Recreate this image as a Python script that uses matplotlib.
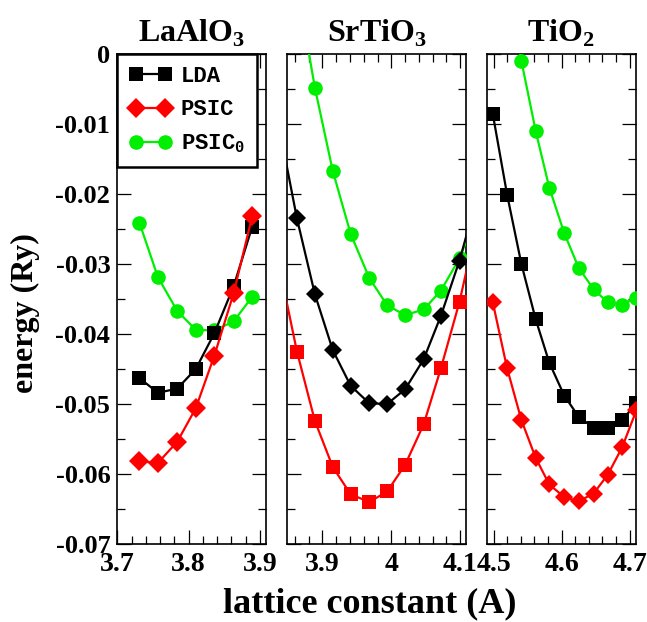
import matplotlib
matplotlib.use("Agg")
import matplotlib.pyplot as plt
from matplotlib.ticker import MultipleLocator, FixedLocator
from matplotlib.lines import Line2D

plt.rcParams['font.family'] = ['Liberation Serif', 'DejaVu Serif']
plt.rcParams['font.weight'] = 'bold'
plt.rcParams['axes.unicode_minus'] = False
plt.rcParams['mathtext.fontset'] = 'custom'
plt.rcParams['mathtext.bf'] = 'Liberation Serif:bold'
plt.rcParams['mathtext.rm'] = 'Liberation Serif:bold'
plt.rcParams['mathtext.tt'] = 'Liberation Mono:bold'

# ---------------- data ----------------
panel_titles = [r'LaAlO$_{\mathbf{3}}$', r'SrTiO$_{\mathbf{3}}$', r'TiO$_{\mathbf{2}}$']
legend_labels = ['LDA', 'PSIC', r'PSIC$_{\mathtt{0}}$']

lao_x = [3.731, 3.757, 3.784, 3.810, 3.836, 3.863, 3.889]
lao_lda = [-0.0463, -0.0484, -0.0478, -0.0450, -0.0399, -0.0332, -0.0247]
lao_psic = [-0.0582, -0.0584, -0.0554, -0.0506, -0.0431, -0.0342, -0.0232]
lao_psic0 = [-0.0241, -0.0319, -0.0367, -0.0394, -0.0395, -0.0382, -0.0347]

sto_x = [3.836, 3.863, 3.889, 3.915, 3.941, 3.968, 3.994, 4.020, 4.047, 4.072, 4.099, 4.125]
sto_lda = [-0.0098, -0.0235, -0.0343, -0.0423, -0.0474, -0.0499, -0.0500, -0.0479, -0.0436, -0.0374, -0.0295, -0.0203]
sto_psic = [-0.0297, -0.0425, -0.0524, -0.0590, -0.0629, -0.0640, -0.0625, -0.0587, -0.0529, -0.0449, -0.0354, -0.0240]
sto_psic0 = [0.0276, 0.0100, -0.0048, -0.0167, -0.0257, -0.0320, -0.0359, -0.0373, -0.0365, -0.0338, -0.0292, -0.0227]

tio_x = [4.499, 4.520, 4.541, 4.562, 4.582, 4.604, 4.625, 4.647, 4.668, 4.689, 4.710]
tio_lda = [-0.0086, -0.0201, -0.0300, -0.0379, -0.0441, -0.0488, -0.0518, -0.0534, -0.0535, -0.0523, -0.0499]
tio_psic = [-0.0355, -0.0449, -0.0523, -0.0577, -0.0615, -0.0633, -0.0639, -0.0628, -0.0601, -0.0562, -0.0509]
tio_psic0 = [0.0249, 0.0110, -0.0010, -0.0110, -0.0191, -0.0256, -0.0305, -0.0336, -0.0355, -0.0358, -0.0348]

y_ticks = [0, -0.01, -0.02, -0.03, -0.04, -0.05, -0.06, -0.07]
y_tick_labels = ['0', '-0.01', '-0.02', '-0.03', '-0.04', '-0.05', '-0.06', '-0.07']
x_ticks = [[3.7, 3.8, 3.9], [3.9, 4.0, 4.1], [4.5, 4.6, 4.7]]
x_tick_labels = [['3.7', '3.8', '3.9'], ['3.9', '4', '4.1'], ['4.5', '4.6', '4.7']]
x_limits = [(3.700, 3.908), (3.849, 4.108), (4.490, 4.709)]

# ---------------- figure ----------------
W, H = 647, 622
fig = plt.figure(figsize=(W / 100, H / 100), dpi=100)

def rect(l, r, t=54, b=544):
    return [l / W, 1 - b / H, (r - l) / W, (b - t) / H]

axes = [fig.add_axes(rect(117.3, 265.7)),
        fig.add_axes(rect(287.3, 465.7)),
        fig.add_axes(rect(486.7, 635.7))]

BLACK = 'black'
RED = '#ff0000'
GREEN = '#00ee00'
lw = 1.6

# marker choices follow the reference panels
panel_data = [
    (lao_x, [(lao_psic0, GREEN, 'o', 10.5), (lao_lda, BLACK, 's', 9.5), (lao_psic, RED, 'D', 10.5)]),
    (sto_x, [(sto_psic0, GREEN, 'o', 10.5), (sto_lda, BLACK, 'D', 9.0), (sto_psic, RED, 's', 9.5)]),
    (tio_x, [(tio_psic0, GREEN, 'o', 10.5), (tio_lda, BLACK, 's', 9.5), (tio_psic, RED, 'D', 9.0)]),
]

for i, ax in enumerate(axes):
    xs, series = panel_data[i]
    for ys, c, m, ms in series:
        ax.plot(xs, ys, color=c, marker=m, markersize=ms, lw=lw,
                markeredgewidth=0, zorder=3)
    ax.set_xlim(*x_limits[i])
    ax.set_ylim(-0.07, 0.0)
    ax.xaxis.set_major_locator(FixedLocator(x_ticks[i]))
    ax.xaxis.set_minor_locator(MultipleLocator(0.02))
    ax.set_xticklabels(x_tick_labels[i])
    ax.yaxis.set_major_locator(FixedLocator(y_ticks))
    ax.yaxis.set_minor_locator(MultipleLocator(0.005))
    if i == 0:
        ax.set_yticklabels(y_tick_labels)
    else:
        ax.set_yticklabels([])
    ax.tick_params(which='both', direction='in', top=True, right=True, width=0.9)
    ax.tick_params(which='major', length=10)
    ax.tick_params(which='minor', length=5.5)
    ax.tick_params(axis='y', which='major', labelsize=19, pad=5)
    ax.tick_params(axis='x', which='major', labelsize=20, pad=6)
    for sp in ax.spines.values():
        sp.set_linewidth(1.2)
    ax.set_title(panel_titles[i], fontsize=23, fontweight='bold', pad=9)

# legend in first panel
handles = [Line2D([], [], color=BLACK, marker='s', markersize=9.5, lw=lw, markeredgewidth=0),
           Line2D([], [], color=RED, marker='D', markersize=10.5, lw=lw, markeredgewidth=0),
           Line2D([], [], color=GREEN, marker='o', markersize=10.5, lw=lw, markeredgewidth=0)]
leg = axes[0].legend(handles, legend_labels, loc='upper left', bbox_to_anchor=(0, 1),
                     borderaxespad=0, numpoints=2, handlelength=1.9, handletextpad=0.4,
                     borderpad=0.55, labelspacing=0.55, fancybox=False, framealpha=1,
                     edgecolor='black',
                     prop={'family': 'Liberation Mono', 'weight': 'bold', 'size': 16})
leg.get_frame().set_linewidth(1.8)
leg.set_zorder(5)

fig.text(25 / W, 1 - 313 / H, 'energy (Ry)', rotation=90, ha='center', va='center',
         fontsize=23, fontweight='bold')
fig.text(370 / W, 1 - 612 / H, 'lattice constant (A)', ha='center', va='baseline',
         fontsize=26, fontweight='bold')

fig.savefig('out.png', dpi=100)
